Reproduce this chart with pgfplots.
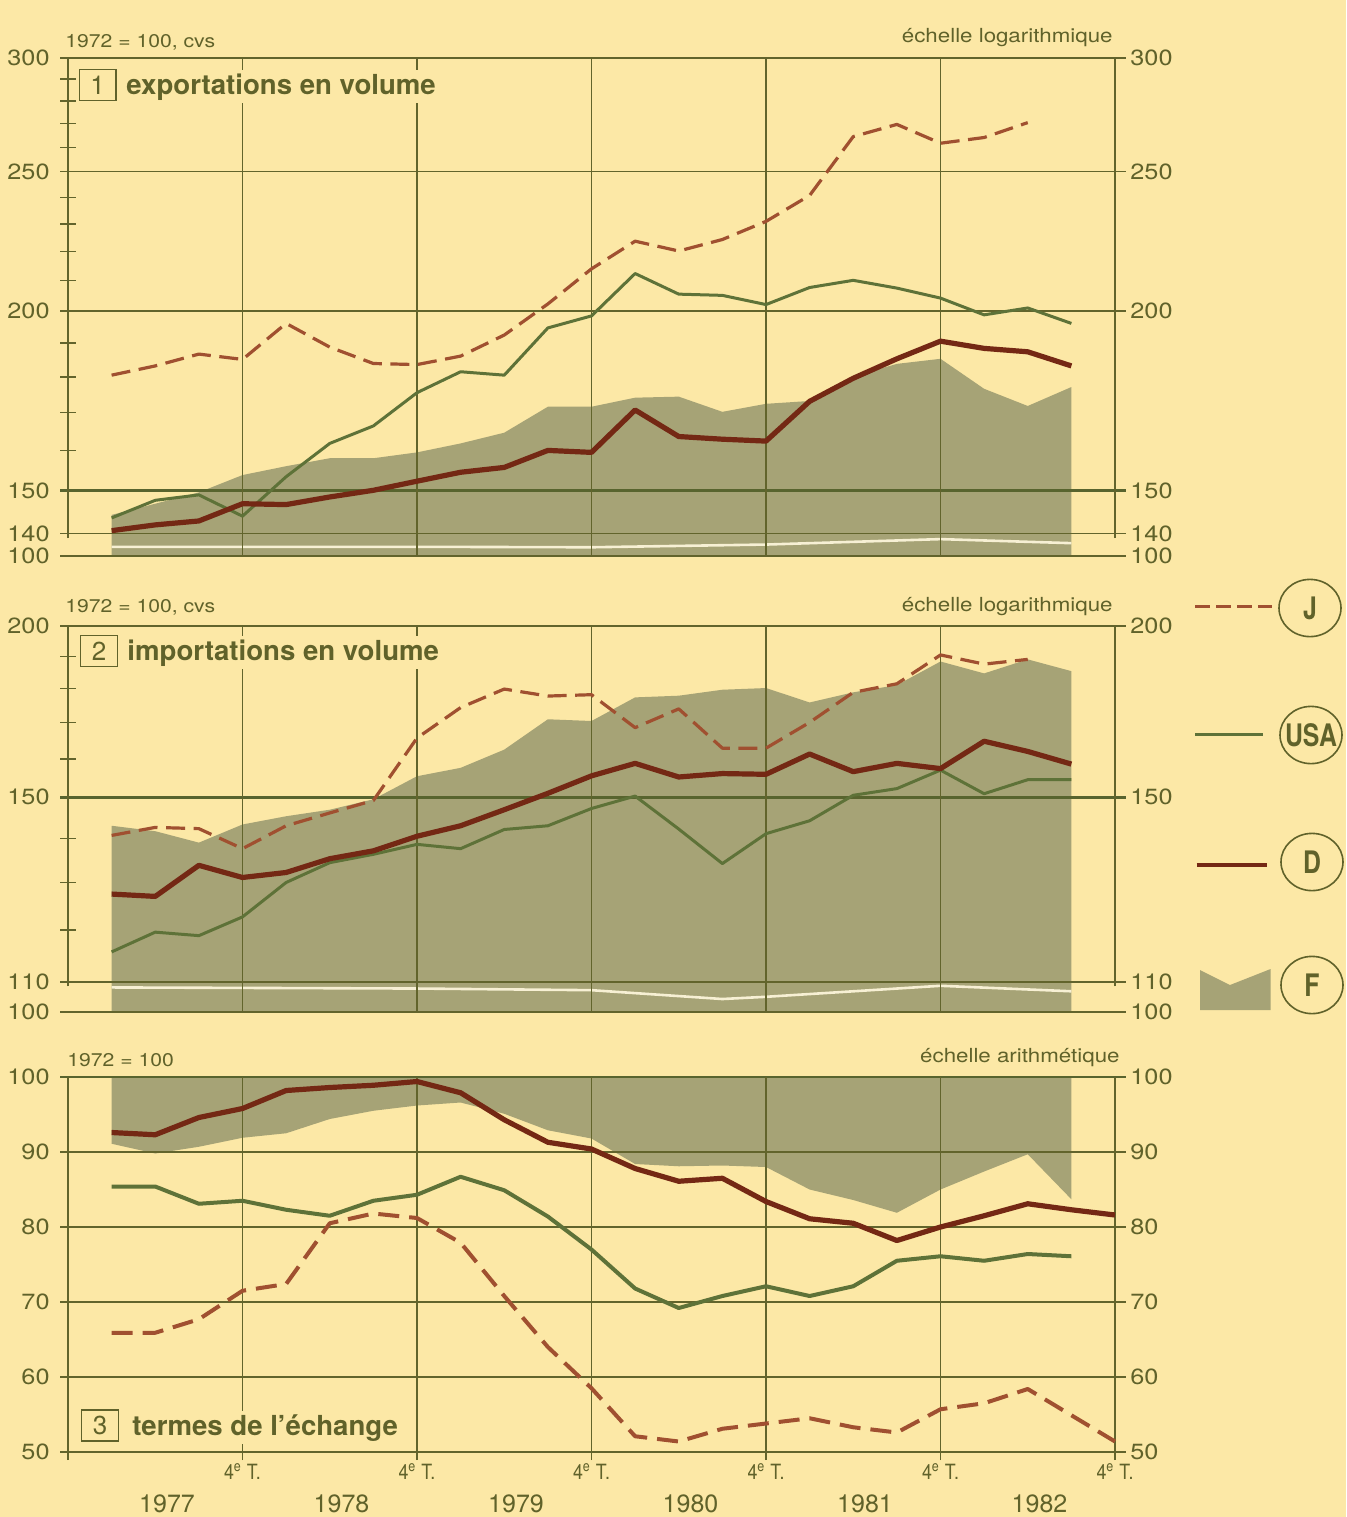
\documentclass[border=0pt]{standalone}
\usepackage{fontspec}
\setmainfont{TeX Gyre Heros}
\newfontfamily\widefont[FakeStretch=1.15]{TeX Gyre Heros}
\newfontfamily\narrowfont[FakeStretch=0.85]{TeX Gyre Heros}
\newfontfamily\legfont[FakeStretch=0.8]{TeX Gyre Heros}
\usepackage{pgfplots}
\pgfplotsset{compat=1.18}

\definecolor{bg}{RGB}{252,232,166}
\definecolor{fcol}{RGB}{166,163,118}
\definecolor{ink}{RGB}{96,98,42}
\definecolor{gridc}{RGB}{98,100,44}
\definecolor{thickc}{RGB}{88,100,46}
\definecolor{usa}{RGB}{94,114,56}
\definecolor{dcol}{RGB}{116,40,20}
\definecolor{jcol}{RGB}{160,80,48}
\definecolor{whl}{RGB}{247,240,212}

\newcommand{\tickfont}{\widefont\fontsize{11}{13}\selectfont}

\tikzset{
  gl/.style={gridc, line width=0.7pt},
  glt/.style={thickc, line width=1.4pt},
  rlab/.style={anchor=west, inner sep=0pt, xshift=7.5pt, font=\tickfont, text=ink},
  yr/.style={anchor=base, inner sep=0pt, yshift=-30pt, font=\fontsize{12.5}{14}\selectfont, text=ink},
  small/.style={anchor=base west, inner sep=0pt, font=\widefont\fontsize{9.2}{11}\selectfont, text=ink},
  ech/.style={anchor=base east, inner sep=0pt, font=\widefont\fontsize{9.7}{11}\selectfont, text=ink},
  numbox/.style={draw=ink, line width=0.7pt, fill=bg, minimum width=18.3pt, minimum height=15.5pt, inner sep=0pt, font=\fontsize{13}{14}\selectfont, text=ink},
  ttl/.style={anchor=base west, inner sep=1.5pt, fill=bg, font=\bfseries\fontsize{13.8}{15}\selectfont, text=ink},
  legl/.style={font=\legfont\bfseries\fontsize{15.5}{16}\selectfont, text=ink, inner sep=0pt},
}
\pgfplotsset{
  panel/.style={
    scale only axis, width=523.5pt, xmin=0, xmax=24,
    axis line style={draw=none}, tick style={draw=none},
    clip=false,
    yticklabel style={font=\tickfont, text=ink, inner sep=0pt, anchor=east, xshift=-9pt},
    /pgf/number format/assume math mode=true,
  },
  jline/.style={jcol, line width=1.6pt, dash pattern=on 9.5pt off 4.3pt, line join=round},
  uline/.style={usa, line width=1.5pt, line join=round},
  dline/.style={dcol, line width=2.6pt, line join=round},
}

\begin{document}
\begin{tikzpicture}
\useasboundingbox (0pt,0pt) rectangle (673pt,-758.5pt);
\fill[bg] (0pt,0pt) rectangle (673pt,-758.5pt);

% ---------------- Panel 1 ----------------
\begin{axis}[panel, at={(34pt,-29pt)}, anchor=north west, height=249pt,
  ymode=log, ymin=135.1, ymax=300, xtick=\empty,
  ytick={135.1,140,150,200,250,300}, yticklabels={100,140,150,200,250,300}]
\addplot[fill=fcol, draw=none] coordinates {(1,135.1) (1,144.3) (2,146.9) (3,149.6) (4,153.8) (5,156.0) (6,158.0) (7,158.0) (8,159.5) (9,161.8) (10,164.6) (11,171.6) (12,171.6) (13,174.1) (14,174.4) (15,170.2) (16,172.4) (17,173.2) (18,180.1) (19,183.8) (20,185.3) (21,176.6) (22,171.8) (23,177.1) (23,135.1)};
\addplot[whl, line width=1.3pt] coordinates {(1,137.1) (4,137.1) (8,137.1) (12,137.0) (16,137.6) (20,138.8) (23,137.9)};
\pgfplotsinvokeforeach{300,250,200,140,135.1}{\draw[gl] (axis cs:-0.183,#1) -- (axis cs:24.25,#1);}
\draw[glt] (axis cs:-0.183,150) -- (axis cs:24.25,150);
\pgfplotsinvokeforeach{4,8,12,16,20}{\draw[gl] (axis cs:#1,135.1) -- (axis cs:#1,300);}
\draw[gl] (axis cs:0,139) -- (axis cs:0,300);
\draw[gl] (axis cs:24,139) -- (axis cs:24,300);
\pgfplotsinvokeforeach{160,170,180,190,210,220,230,240,260,270,280,290}{\draw[gl] (axis cs:-0.183,#1) -- (axis cs:0.183,#1);}
\addplot[jline] coordinates {(1,180.5) (2,183.2) (3,186.7) (4,185.1) (5,196.1) (6,188.8) (7,183.9) (8,183.6) (9,186.1) (10,192.5) (11,202.3) (12,214.0) (13,223.7) (14,220.2) (15,224.3) (16,230.9) (17,240.7) (18,264.5) (19,269.7) (20,261.7) (21,264.1) (22,270.5)};
\addplot[uline] coordinates {(1,143.6) (2,147.7) (3,149.0) (4,144.0) (5,153.4) (6,161.8) (7,166.4) (8,175.5) (9,181.5) (10,180.5) (11,194.7) (12,198.5) (13,212.4) (14,205.5) (15,205.1) (16,202.1) (17,207.7) (18,210.1) (19,207.5) (20,204.2) (21,198.8) (22,201.0) (23,196.1)};
\addplot[dline] coordinates {(1,140.7) (2,142.0) (3,142.9) (4,146.9) (5,146.7) (6,148.5) (7,150.1) (8,152.3) (9,154.5) (10,155.7) (11,160.0) (12,159.5) (13,170.7) (14,163.6) (15,162.9) (16,162.4) (17,173.1) (18,179.6) (19,185.3) (20,190.6) (21,188.4) (22,187.4) (23,183.2)};
\node[rlab] at (axis cs:24,300) {300};
\node[rlab] at (axis cs:24,250) {250};
\node[rlab] at (axis cs:24,200) {200};
\node[rlab] at (axis cs:24,150) {150};
\node[rlab] at (axis cs:24,140) {140};
\node[rlab] at (axis cs:24,135.1) {100};
\end{axis}

% ---------------- Panel 2 ----------------
\begin{axis}[panel, at={(34pt,-313pt)}, anchor=north west, height=193pt,
  ymode=log, ymin=104.6, ymax=200, xtick=\empty,
  ytick={104.6,110,150,200}, yticklabels={100,110,150,200}]
\addplot[fill=fcol, draw=none] coordinates {(1,104.6) (1,143.0) (2,141.7) (3,139.0) (4,143.3) (5,145.3) (6,146.9) (7,149.5) (8,155.4) (9,157.6) (10,162.5) (11,171.0) (12,170.5) (13,177.4) (14,177.9) (15,179.7) (16,180.2) (17,175.9) (18,178.9) (19,181.1) (20,188.4) (21,184.7) (22,189.1) (23,185.4) (23,104.6)};
\addplot[whl, line width=1.3pt] coordinates {(1,109.0) (8,108.8) (12,108.5) (15,106.9) (16,107.3) (20,109.3) (23,108.3)};
\pgfplotsinvokeforeach{200,110,104.6}{\draw[gl] (axis cs:-0.183,#1) -- (axis cs:24.25,#1);}
\draw[glt] (axis cs:-0.183,150) -- (axis cs:24.25,150);
\pgfplotsinvokeforeach{4,8,12,16,20}{\draw[gl] (axis cs:#1,104.6) -- (axis cs:#1,200);}
\draw[gl] (axis cs:0,109.2) -- (axis cs:0,200);
\draw[gl] (axis cs:24,109.2) -- (axis cs:24,200);
\pgfplotsinvokeforeach{120,130,140,160,170,180,190}{\draw[gl] (axis cs:-0.183,#1) -- (axis cs:0.183,#1);}
\addplot[jline] coordinates {(1,140.7) (2,142.6) (3,142.3) (4,137.6) (5,143.0) (6,146.1) (7,149.2) (8,165.7) (9,174.4) (10,179.9) (11,177.8) (12,178.2) (13,168.6) (14,174.0) (15,162.9) (16,162.9) (17,170.1) (18,178.9) (19,181.5) (20,190.5) (21,187.6) (22,189.1)};
\addplot[uline] coordinates {(1,115.7) (2,119.6) (3,118.9) (4,122.7) (5,130.0) (6,134.4) (7,136.3) (8,138.6) (9,137.6) (10,142.1) (11,143.0) (12,147.2) (13,150.3) (14,142.2) (15,134.2) (16,141.1) (17,144.2) (18,150.5) (19,152.2) (20,157.0) (21,150.9) (22,154.5) (23,154.5)};
\addplot[dline] coordinates {(1,127.5) (2,127.0) (3,133.8) (4,131.1) (5,132.2) (6,135.3) (7,137.1) (8,140.5) (9,143.0) (10,146.9) (11,151.0) (12,155.5) (13,158.8) (14,155.2) (15,156.1) (16,155.9) (17,161.3) (18,156.6) (19,158.8) (20,157.4) (21,164.8) (22,162.0) (23,158.6)};
\node[rlab] at (axis cs:24,200) {200};
\node[rlab] at (axis cs:24,150) {150};
\node[rlab] at (axis cs:24,110) {110};
\node[rlab] at (axis cs:24,104.6) {100};
\end{axis}

% ---------------- Panel 3 ----------------
\begin{axis}[panel, at={(34pt,-538.5pt)}, anchor=north west, height=187.5pt,
  ymin=50, ymax=100,
  ytick={50,60,70,80,90,100}, yticklabels={50,60,70,80,90,100},
  xtick={4,8,12,16,20,24},
  xticklabels={4\textsuperscript{e} T.,4\textsuperscript{e} T.,4\textsuperscript{e} T.,4\textsuperscript{e} T.,4\textsuperscript{e} T.,4\textsuperscript{e} T.},
  xticklabel style={font=\narrowfont\fontsize{10.5}{12}\selectfont, text=ink, inner sep=0pt, anchor=north, yshift=-5.5pt}]
\addplot[fill=fcol, draw=none] coordinates {(1,100) (1,91.1) (2,89.8) (3,90.7) (4,91.9) (5,92.5) (6,94.4) (7,95.5) (8,96.2) (9,96.6) (10,95.1) (11,92.9) (12,91.8) (13,88.4) (14,88.1) (15,88.2) (16,88.0) (17,85.0) (18,83.6) (19,81.9) (20,85.0) (21,87.4) (22,89.7) (23,83.7) (23,100)};
\pgfplotsinvokeforeach{90,80,70,60,50}{\draw[gl] (axis cs:-0.183,#1) -- (axis cs:24.25,#1);}
\draw[glt] (axis cs:-0.183,100) -- (axis cs:24.25,100);
\pgfplotsinvokeforeach{4,8,12,16,20}{\draw[gl] (axis cs:#1,48.93) -- (axis cs:#1,100);}
\draw[gl] (axis cs:0,48.93) -- (axis cs:0,100);
\draw[gl] (axis cs:24,48.93) -- (axis cs:24,100);
\addplot[jcol, line width=2pt, dash pattern=on 10.5pt off 5pt, line join=round] coordinates {(1,65.9) (2,65.9) (3,67.7) (4,71.5) (5,72.4) (6,80.5) (7,81.8) (8,81.2) (9,77.9) (10,70.8) (11,64.0) (12,58.5) (13,52.1) (14,51.4) (15,53.1) (16,53.8) (17,54.5) (18,53.3) (19,52.6) (20,55.7) (21,56.5) (22,58.4) (23,54.9) (24,51.4)};
\addplot[usa, line width=2pt, line join=round] coordinates {(1,85.4) (2,85.4) (3,83.1) (4,83.5) (5,82.3) (6,81.5) (7,83.5) (8,84.3) (9,86.7) (10,84.9) (11,81.4) (12,77.0) (13,71.8) (14,69.2) (15,70.8) (16,72.1) (17,70.8) (18,72.1) (19,75.5) (20,76.1) (21,75.5) (22,76.4) (23,76.1)};
\addplot[dline] coordinates {(1,92.6) (2,92.3) (3,94.6) (4,95.8) (5,98.2) (6,98.6) (7,98.9) (8,99.4) (9,97.9) (10,94.3) (11,91.3) (12,90.4) (13,87.8) (14,86.1) (15,86.5) (16,83.4) (17,81.1) (18,80.5) (19,78.2) (20,80.0) (21,81.5) (22,83.1) (23,82.3) (24,81.6)};
\node[rlab] at (axis cs:24,100) {100};
\node[rlab] at (axis cs:24,90) {90};
\node[rlab] at (axis cs:24,80) {80};
\node[rlab] at (axis cs:24,70) {70};
\node[rlab] at (axis cs:24,60) {60};
\node[rlab] at (axis cs:24,50) {50};
\node[yr] at (axis cs:2.27,50) {1977};
\node[yr] at (axis cs:6.27,50) {1978};
\node[yr] at (axis cs:10.27,50) {1979};
\node[yr] at (axis cs:14.27,50) {1980};
\node[yr] at (axis cs:18.27,50) {1981};
\node[yr] at (axis cs:22.27,50) {1982};
\end{axis}

% ---------------- texts ----------------
\node[small] at (32.5pt,-23.7pt) {1972 = 100, cvs};
\node[ech] at (556.5pt,-21pt) {échelle logarithmique};
\node[ttl] at (61.5pt,-47pt) {exportations en volume};
\node[numbox] at (48.75pt,-42.4pt) {1};

\node[small] at (32.5pt,-306pt) {1972 = 100, cvs};
\node[ech] at (556.5pt,-305.5pt) {échelle logarithmique};
\node[ttl] at (62pt,-330pt) {importations en volume};
\node[numbox] at (49.5pt,-325.5pt) {2};

\node[small] at (33.5pt,-533pt) {1972 = 100};
\node[ech] at (560pt,-531pt) {échelle arithmétique};
\node[ttl] at (64.5pt,-717.5pt) {termes de l’échange};
\node[numbox] at (50pt,-712.7pt) {3};

% ---------------- legend ----------------
\draw[jcol, line width=1.6pt, dash pattern=on 7.5pt off 3pt] (597.5pt,-303.3pt) -- (636pt,-303.3pt);
\draw[ink, line width=0.8pt] (655pt,-304pt) ellipse (15.5pt and 14.3pt);
\node[legl] at (655pt,-304pt) {J};

\draw[usa, line width=1.1pt] (597.5pt,-367.2pt) -- (631.3pt,-367.2pt);
\draw[ink, line width=0.8pt] (655.5pt,-367.5pt) ellipse (15.5pt and 14.3pt);
\node[legl] at (655.5pt,-367.5pt) {USA};

\draw[dcol, line width=2.2pt] (598.3pt,-432.5pt) -- (633.3pt,-432.5pt);
\draw[ink, line width=0.8pt] (656pt,-431pt) ellipse (15.5pt and 14.3pt);
\node[legl] at (656pt,-431pt) {D};

\fill[fcol] (600pt,-485pt) -- (615pt,-492.5pt) -- (635.3pt,-484.5pt) -- (635.3pt,-505pt) -- (600pt,-505pt) -- cycle;
\draw[ink, line width=0.8pt] (656pt,-492.5pt) ellipse (15.5pt and 14.3pt);
\node[legl] at (656pt,-492.5pt) {F};
\end{tikzpicture}
\end{document}
